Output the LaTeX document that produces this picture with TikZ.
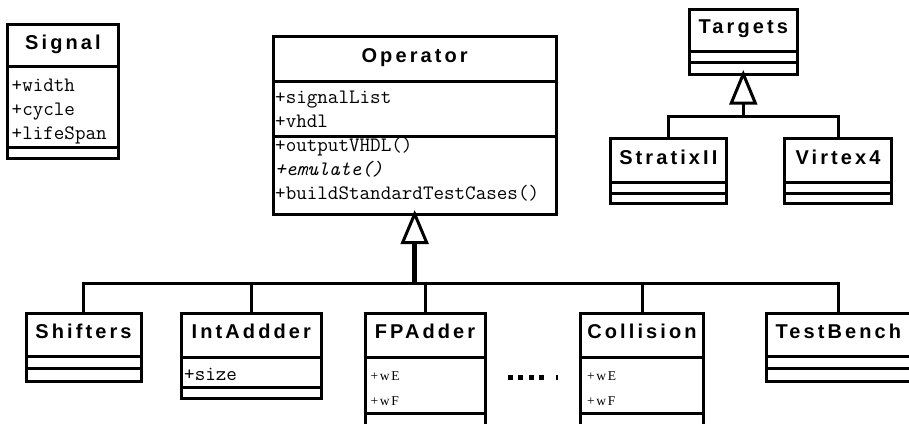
\documentclass[tikz,border=0pt]{standalone}
\usepackage{fontspec}
\usetikzlibrary{calc}
\newfontfamily\serf[LetterSpace=12]{Liberation Serif}
\newfontfamily\titlef[LetterSpace=15.5]{Liberation Sans}
\tikzset{
  cls/.style={draw, line width=3pt, fill=white, rectangle, inner sep=0pt, outer sep=0pt, anchor=north west},
  sepl/.style={line width=3pt},
  conn/.style={line width=3pt},
  stem/.style={line width=4.5pt},
  tri/.style={line width=3pt, fill=white, line join=miter},
  ttl/.style={anchor=base, inner sep=0pt, font=\titlef\bfseries\fontsize{20}{24}\selectfont},
  attr/.style={anchor=base west, inner sep=0pt, font=\ttfamily\fontsize{20.5}{24}\selectfont},
  iattr/.style={attr, font=\ttfamily\itshape\fontsize{20.5}{24}\selectfont},
  sattr/.style={anchor=base west, inner sep=0pt, font=\serf\fontsize{13.5}{16}\selectfont},
  dotbox/.style={fill=black}
}
\newcommand\umlcls[5]{\node[cls, minimum width={#4-#2}, minimum height={#5-#3}] (#1) at (#2,#3) {};}
\newcommand\umlsep[2]{\draw[sepl] (#1.west |- 0,#2) -- (#1.east |- 0,#2);}
\begin{document}
\begin{tikzpicture}[x=1pt, y=-1pt]
\useasboundingbox (0,0) rectangle (909,423);
\clip (0,0) rectangle (909,423);

% Signal
\umlcls{sig}{7.7}{24.3}{118.3}{158.3}
\umlsep{sig}{66}\umlsep{sig}{147.3}
\node[ttl] (sigT) at (sig.north |- 0,49) {Signal};
\node[attr] (sigA1) at (11.5,91) {+width};
\node[attr] (sigA2) at (11.5,115) {+cycle};
\node[attr] (sigA3) at (11.5,139.5) {+lifeSpan};

% Operator
\umlcls{op}{273.3}{36.7}{556}{214}
\umlsep{op}{81}\umlsep{op}{136}
\node[ttl] (opT) at (op.north |- 0,62) {Operator};
\node[attr] (opA1) at (275,103) {+signalList};
\node[attr] (opA2) at (275,127) {+vhdl};
\node[attr] (opM1) at (275,151) {+outputVHDL()};
\node[iattr] (opM2) at (275,175) {+emulate()};
\node[attr] (opM3) at (275,199) {+buildStandardTestCases()};

% Targets
\umlcls{tgt}{689.3}{9}{797.3}{74}
\umlsep{tgt}{51.7}\umlsep{tgt}{62.3}
\node[ttl] (tgtT) at (tgt.north |- 0,33.5) {Targets};

\umlcls{strx}{610}{138.3}{726.7}{203.3}
\umlsep{strx}{182.7}\umlsep{strx}{193.3}
\node[ttl] (strxT) at (strx.north |- 0,164.5) {StratixII};

\umlcls{vir}{784.3}{138.3}{891.7}{203.3}
\umlsep{vir}{182.7}\umlsep{vir}{193.3}
\node[ttl] (virT) at (vir.north |- 0,164.5) {Virtex4};

% bottom row
\umlcls{shif}{26}{313.3}{141}{381}
\umlsep{shif}{356}\umlsep{shif}{368.3}
\node[ttl] (shifT) at (shif.north |- 0,338.3) {Shifters};

\umlcls{inta}{181}{313.3}{321.7}{398.3}
\umlsep{inta}{357.3}\umlsep{inta}{387.3}
\node[ttl] (intaT) at (inta.north |- 0,338.3) {IntAddder};
\node[attr] (intaA1) at (184,380) {+size};

\umlcls{fpa}{365}{313.3}{485}{440}
\umlsep{fpa}{357.3}\umlsep{fpa}{413.3}
\node[ttl] (fpaT) at (fpa.north |- 0,338.3) {FPAdder};
\node[sattr] (fpaA1) at (370.5,380.5) {+wE};
\node[sattr] (fpaA2) at (370.5,405.3) {+wF};

\umlcls{col}{580.7}{313.3}{703.3}{440}
\umlsep{col}{357.3}\umlsep{col}{413.3}
\node[ttl] (colT) at (col.north |- 0,338.3) {Collision};
\node[sattr] (colA1) at (587,380.5) {+wE};
\node[sattr] (colA2) at (587,405.3) {+wF};

\umlcls{tb}{766}{313.3}{910.6}{381}
\umlsep{tb}{356}\umlsep{tb}{368.3}
\node[ttl] (tbT) at (tb.north |- 0,338.3) {TestBench};

% ellipsis
\fill[dotbox] (508.3,375.2) rectangle (513.3,379.5);
\fill[dotbox] (518.3,375.2) rectangle (523.3,379.5);
\fill[dotbox] (529,375.2) rectangle (534,379.5);
\fill[dotbox] (539,375.2) rectangle (544,379.5);
\fill[dotbox] (556,375.2) rectangle (558,379.5);

% Operator inheritance
\coordinate (opB) at ($(op.south)+(0,28.5)$);
\coordinate (opJ) at (op.south |- 0,283.3);
\draw[conn] (shif.north) |- (opJ);
\draw[conn] (inta.north) |- (opJ);
\draw[conn] (fpa.north) |- (opJ);
\draw[conn] (col.north) |- (opJ);
\draw[conn] (tb.north) |- (opJ);
\draw[stem] (opB) -- (opJ);
\draw[tri] (op.south) -- ($(opB)+(-12,0)$) -- ($(opB)+(12,0)$) -- cycle;

% Targets inheritance
\coordinate (tgtB) at ($(tgt.south)+(0,29)$);
\coordinate (tgtJ) at (tgt.south |- 0,116);
\draw[conn] (strx.north) |- (tgtJ);
\draw[conn] (vir.north) |- (tgtJ);
\draw[conn] (tgtB) -- (tgtJ);
\draw[tri] (tgt.south) -- ($(tgtB)+(-12,0)$) -- ($(tgtB)+(12,0)$) -- cycle;
\end{tikzpicture}
\end{document}
